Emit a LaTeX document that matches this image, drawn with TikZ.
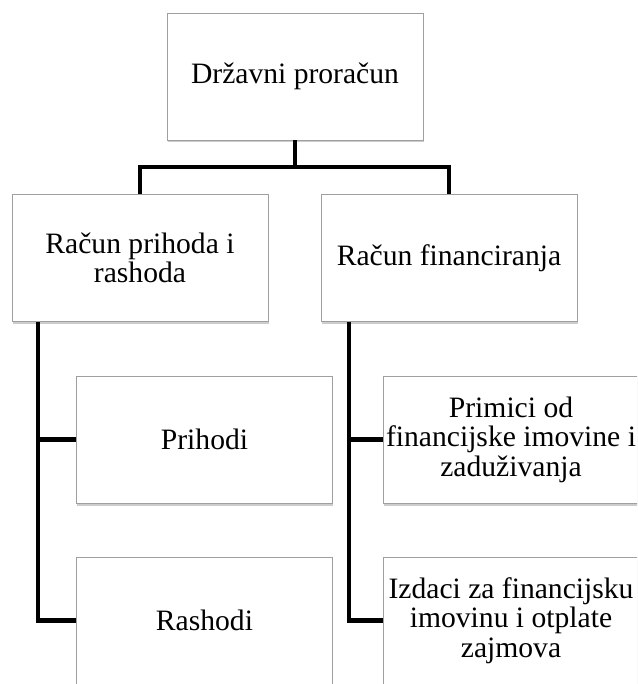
\documentclass[tikz,border=0pt]{standalone}
\usepackage{fontspec}
\setmainfont{Liberation Serif}
\usetikzlibrary{shadows}

\tikzset{
    kutija/.style={draw=gray!75, line width=0.8pt, fill=white, align=center,
        minimum width=256pt, minimum height=127pt, inner sep=2pt,
        font=\fontsize{29.6}{29.5}\selectfont,
        drop shadow={shadow xshift=0.6pt, shadow yshift=-2.5pt, opacity=0.4}},
    veza/.style={line width=4.2pt, black}
}

\begin{document}
\begin{tikzpicture}[x=1pt, y=-1pt]
    % Frame
    \useasboundingbox (0,0) rectangle (637,684);
    \clip (0,0) rectangle (637,684);

    % Boxes
    \node[kutija] (drzavni) at (295,76.5) {Državni proračun};
    \node[kutija] (racunpr) at (140,258) {Račun prihoda i\\rashoda};
    \node[kutija] (racunfin) at (449,258) {Račun financiranja};
    \node[kutija] (prihodi) at (204.5,439.5) {Prihodi};
    \node[kutija] (rashodi) at (204.5,620.5) {Rashodi};
    \node[kutija] (primici) at (511,439.5) {Primici od\\financijske imovine i\\zaduživanja};
    \node[kutija] (izdaci) at (511,620.5) {Izdaci za financijsku\\imovinu i otplate\\zajmova};

    % Connectors
    \draw[veza] (drzavni.south) -- ++(0,27) -| (racunpr.north);
    \draw[veza] (drzavni.south) -- ++(0,27) -| (racunfin.north);
    \draw[veza] ([xshift=26pt]racunpr.south west) |- (prihodi.west);
    \draw[veza] ([xshift=26pt]racunpr.south west) |- (rashodi.west);
    \draw[veza] ([xshift=28pt]racunfin.south west) |- (primici.west);
    \draw[veza] ([xshift=28pt]racunfin.south west) |- (izdaci.west);
\end{tikzpicture}
\end{document}
